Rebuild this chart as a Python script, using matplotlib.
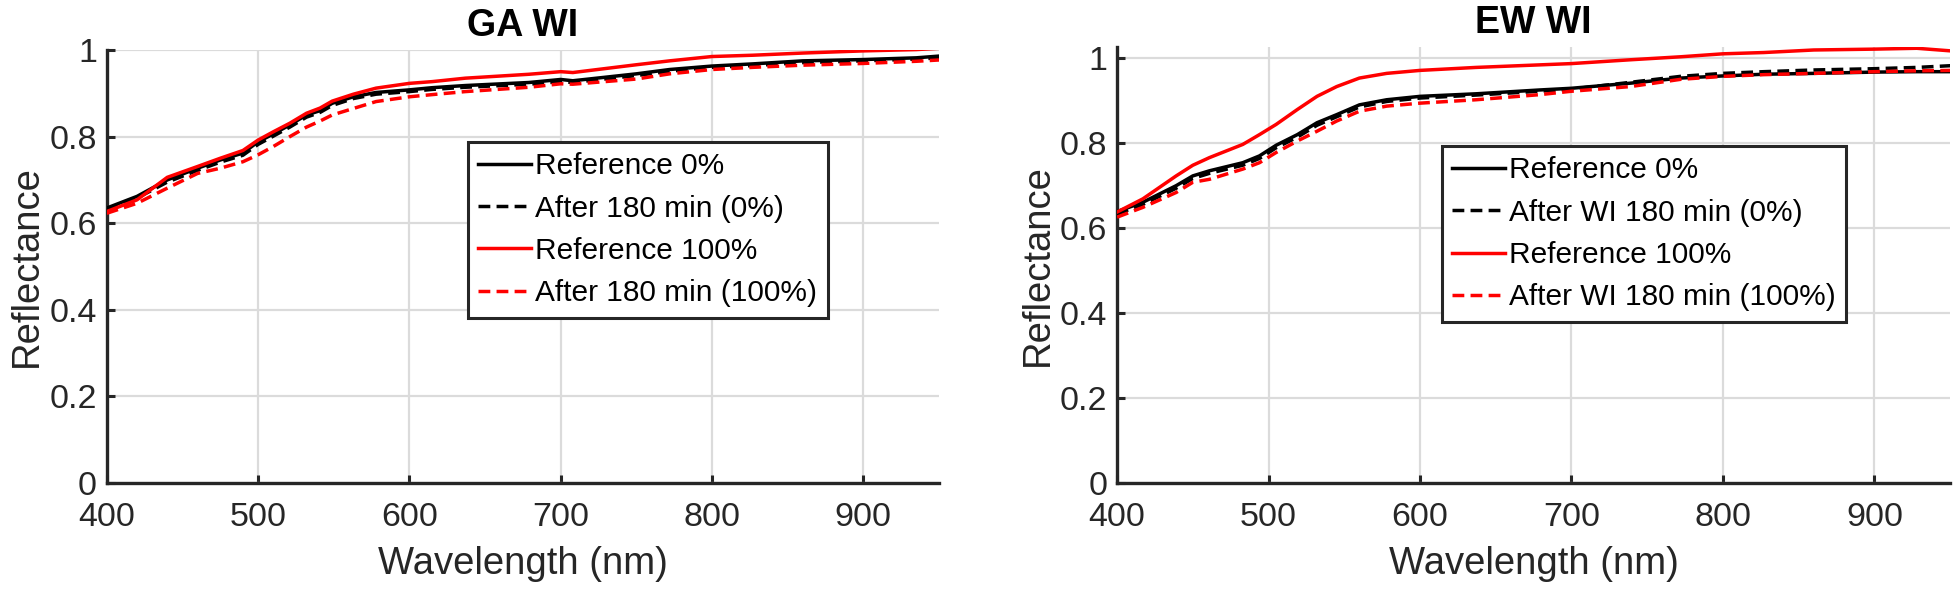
#!/usr/bin/env python3
"""Reflectance spectra before/after 180 min, GA WI and EW WI panels."""

import matplotlib
matplotlib.use("Agg")
import matplotlib.pyplot as plt

# GA WI panel
ga_wl = [400, 420, 440, 460, 475, 490, 500, 510, 521, 532, 541, 549, 563,
         578, 600, 615, 637, 679, 700, 708, 750, 772, 800, 827, 860, 900,
         935, 950]
ga_ref0 = [0.635, 0.662, 0.700, 0.727, 0.746, 0.762, 0.788, 0.806, 0.827,
           0.850, 0.860, 0.877, 0.892, 0.902, 0.908, 0.913, 0.918, 0.925,
           0.932, 0.929, 0.945, 0.955, 0.963, 0.968, 0.975, 0.978, 0.982,
           0.986]
ga_after0 = [0.632, 0.658, 0.695, 0.722, 0.741, 0.757, 0.782, 0.801, 0.822,
             0.845, 0.856, 0.872, 0.888, 0.898, 0.904, 0.909, 0.914, 0.921,
             0.927, 0.925, 0.941, 0.951, 0.960, 0.964, 0.971, 0.975, 0.979,
             0.982]
ga_ref100 = [0.627, 0.654, 0.706, 0.731, 0.750, 0.768, 0.792, 0.811, 0.831,
             0.854, 0.866, 0.882, 0.898, 0.912, 0.923, 0.927, 0.935, 0.944,
             0.950, 0.948, 0.966, 0.975, 0.985, 0.988, 0.993, 0.998, 1.001,
             1.004]
ga_after100 = [0.623, 0.646, 0.681, 0.715, 0.727, 0.742, 0.758, 0.777, 0.800,
               0.822, 0.836, 0.850, 0.865, 0.881, 0.892, 0.897, 0.904, 0.914,
               0.922, 0.921, 0.933, 0.945, 0.955, 0.960, 0.965, 0.969, 0.974,
               0.977]

# EW WI panel
ew_wl = [400, 417, 439, 450, 461, 483, 494, 505, 519, 532, 545, 560, 578,
         600, 637, 679, 700, 739, 772, 800, 827, 860, 900, 928, 950]
ew_ref0 = [0.638, 0.660, 0.699, 0.722, 0.734, 0.753, 0.769, 0.794, 0.819,
           0.847, 0.866, 0.889, 0.901, 0.909, 0.915, 0.924, 0.928, 0.940,
           0.952, 0.957, 0.961, 0.963, 0.966, 0.967, 0.967]
ew_after0 = [0.632, 0.655, 0.693, 0.716, 0.728, 0.747, 0.763, 0.788, 0.813,
             0.841, 0.861, 0.884, 0.897, 0.905, 0.912, 0.921, 0.926, 0.942,
             0.956, 0.963, 0.967, 0.971, 0.974, 0.977, 0.981]
ew_ref100 = [0.637, 0.668, 0.722, 0.747, 0.765, 0.796, 0.819, 0.843, 0.878,
             0.909, 0.932, 0.952, 0.963, 0.970, 0.977, 0.983, 0.986, 0.995,
             1.002, 1.009, 1.012, 1.018, 1.020, 1.022, 1.016]
ew_after100 = [0.625, 0.648, 0.683, 0.707, 0.714, 0.738, 0.753, 0.777, 0.804,
               0.827, 0.851, 0.874, 0.886, 0.893, 0.901, 0.913, 0.921, 0.932,
               0.949, 0.956, 0.960, 0.963, 0.967, 0.969, 0.970]

ga_labels = ["Reference 0%", "After 180 min (0%)",
             "Reference 100%", "After 180 min (100%)"]
ew_labels = ["Reference 0%", "After WI 180 min (0%)",
             "Reference 100%", "After WI 180 min (100%)"]

x_ticks = [400, 500, 600, 700, 800, 900]
y_ticks = [0, 0.2, 0.4, 0.6, 0.8, 1]

AX_COLOR = (0.15, 0.15, 0.15)
LW = 2.5
DASHES = (3.4, 1.8)


def draw_panel(ax, title, wl, series, labels, ymax, legend_anchor):
    styles = [("black", "-"), ("black", "--"), ("red", "-"), ("red", "--")]
    for values, label, (color, ls) in zip(series, labels, styles):
        line, = ax.plot(wl, values, color=color, linestyle=ls, linewidth=LW,
                        label=label, zorder=3)
        if ls == "--":
            line.set_dashes(DASHES)

    ax.set_xlim(400, 950)
    ax.set_ylim(0, ymax)
    ax.set_xticks(x_ticks)
    ax.set_yticks(y_ticks)
    ax.set_yticklabels(["0", "0.2", "0.4", "0.6", "0.8", "1"])

    # MATLAB-ish look: box off, inward ticks, light grid
    for side in ("top", "right"):
        ax.spines[side].set_visible(False)
    for side in ("left", "bottom"):
        ax.spines[side].set_color(AX_COLOR)
        ax.spines[side].set_linewidth(2.4)
    ax.tick_params(direction="in", length=6, width=2.2, colors=AX_COLOR,
                   labelsize=24.5, labelcolor=AX_COLOR)
    ax.tick_params(axis="x", pad=14)
    ax.tick_params(axis="y", pad=7)
    ax.grid(True, color=(0.86, 0.86, 0.86), linewidth=1.6, zorder=0)
    ax.set_axisbelow(True)

    ax.set_title(title, fontsize=27, fontweight="bold", pad=10)
    ax.set_xlabel("Wavelength (nm)", fontsize=27.5, color=AX_COLOR,
                  labelpad=9)
    ax.set_ylabel("Reflectance", fontsize=27.5, color=AX_COLOR, labelpad=3)

    leg = ax.legend(loc="upper left", bbox_to_anchor=legend_anchor,
                    borderaxespad=0, fontsize=21.5, handlelength=1.75,
                    handletextpad=0.15, labelspacing=0.48, borderpad=0.35,
                    fancybox=False, framealpha=1)
    leg.get_frame().set_edgecolor(AX_COLOR)
    leg.get_frame().set_linewidth(2.2)


def main():
    plt.rcParams.update({
        "font.family": ["Liberation Sans", "DejaVu Sans"],
    })
    fig = plt.figure(figsize=(19.55, 5.92), dpi=100)
    ax1 = fig.add_axes([0.0546, 0.1841, 0.4257, 0.7314])
    ax2 = fig.add_axes([0.5714, 0.1841, 0.4261, 0.7365])

    draw_panel(ax1, "GA WI", ga_wl,
               [ga_ref0, ga_after0, ga_ref100, ga_after100],
               ga_labels, 1.0, (0.434, 0.788))
    draw_panel(ax2, "EW WI", ew_wl,
               [ew_ref0, ew_after0, ew_ref100, ew_after100],
               ew_labels, 1.025, (0.390, 0.773))

    fig.savefig("out.png", dpi=100)
    plt.close(fig)


if __name__ == "__main__":
    main()
